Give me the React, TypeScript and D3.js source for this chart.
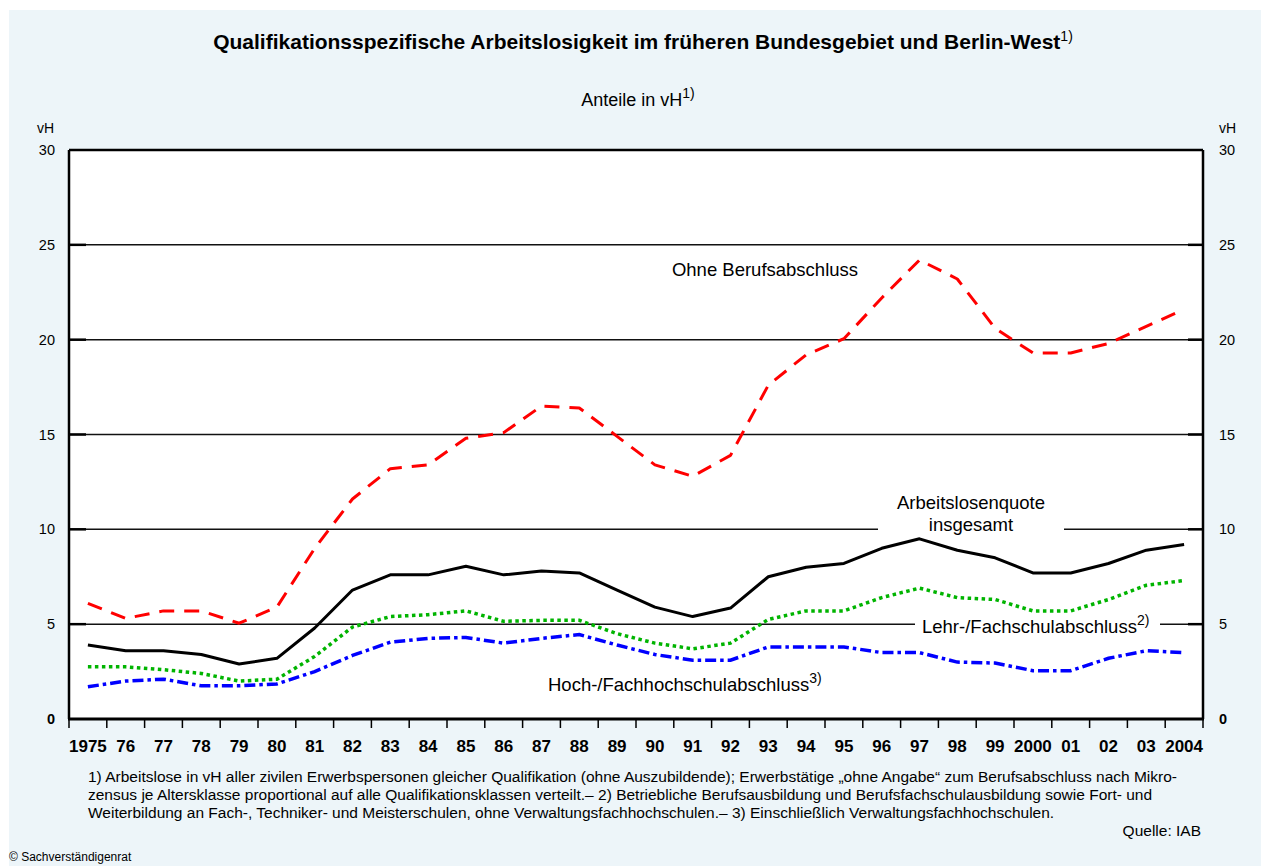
import React from "react";
import * as d3 from "d3";

const years = ["1975","76","77","78","79","80","81","82","83","84","85","86","87","88","89","90","91","92","93","94","95","96","97","98","99","2000","01","02","03","2004"];
const insgesamt = [3.9,3.6,3.6,3.4,2.9,3.2,4.8,6.8,7.6,7.6,8.05,7.6,7.8,7.7,6.8,5.9,5.4,5.85,7.5,8.0,8.2,9.0,9.5,8.9,8.5,7.7,7.7,8.2,8.9,9.2];
const ohneBerufsabschluss = [6.1,5.3,5.7,5.7,5.05,5.9,9.0,11.6,13.2,13.4,14.8,15.1,16.5,16.4,14.9,13.4,12.8,13.9,17.6,19.2,20.05,22.2,24.2,23.2,20.6,19.3,19.3,19.8,20.7,21.6];
const lehrFachschul = [2.75,2.75,2.6,2.4,2.0,2.1,3.3,4.85,5.4,5.5,5.7,5.15,5.2,5.2,4.5,4.0,3.7,4.0,5.25,5.7,5.7,6.4,6.9,6.4,6.3,5.7,5.7,6.3,7.05,7.3];
const hochFachhochschul = [1.7,2.0,2.1,1.75,1.75,1.85,2.5,3.35,4.05,4.25,4.3,4.0,4.25,4.45,3.9,3.4,3.1,3.1,3.8,3.8,3.8,3.5,3.5,3.0,2.95,2.55,2.55,3.2,3.6,3.5];
const yTicks = [0,5,10,15,20,25,30];

const FONT = "'Liberation Sans', Arial, Helvetica, sans-serif";

export default function App() {
  const W = 1261, H = 866;
  const left = 69, right = 1203, top = 150, bottom = 719;
  const x = d3.scaleBand<string>().domain(years).range([left, right]);
  const y = d3.scaleLinear().domain([0, 30]).range([bottom, top]);
  const cx = (i: number) => (x(years[i]) as number) + x.bandwidth() / 2;
  const line = d3.line<number>().x((_, i) => cx(i)).y((d) => y(d)).curve(d3.curveLinear);

  const boundaries = years.map((yr) => x(yr) as number).concat([right]);

  return (
    <svg width={W} height={H} style={{ position: "absolute", left: 0, top: 0 }} fontFamily={FONT}>
      <rect x={9} y={10} width={W - 9} height={H - 10} fill="#EDF5F9" />
      {/* Title */}
      <text x={643} y={49} textAnchor="middle" fontSize={21} fontWeight="bold" fill="#000">
        Qualifikationsspezifische Arbeitslosigkeit im früheren Bundesgebiet und Berlin-West
        <tspan fontSize={14} fontWeight="normal" dy={-8}>1)</tspan>
      </text>
      <text x={638} y={106} textAnchor="middle" fontSize={18} fill="#000">
        Anteile in vH<tspan fontSize={14} dy={-8}>1)</tspan>
      </text>
      {/* unit labels */}
      <text x={54} y={133} textAnchor="end" fontSize={14}>vH</text>
      <text x={1219} y={133} textAnchor="start" fontSize={14}>vH</text>

      {/* plot area */}
      <rect x={left} y={top} width={right - left} height={bottom - top} fill="#fff" />

      {/* gridlines */}
      {yTicks.filter((t) => t > 0 && t < 30).map((t) => (
        <g key={t}>
          <line x1={left} x2={right} y1={y(t)} y2={y(t)} stroke="#111" strokeWidth={1.5} />
          <line x1={left} x2={left + 17} y1={y(t)} y2={y(t)} stroke="#000" strokeWidth={2.5} />
          <line x1={right - 15} x2={right} y1={y(t)} y2={y(t)} stroke="#000" strokeWidth={2.5} />
        </g>
      ))}

      {/* y tick labels */}
      {yTicks.map((t) => (
        <g key={"yl" + t}>
          <text x={55} y={y(t) + 5} textAnchor="end" fontSize={14.5} fontWeight={t === 0 ? "bold" : "normal"}>{t}</text>
          <text x={1219} y={y(t) + 5} textAnchor="start" fontSize={14.5} fontWeight={t === 0 ? "bold" : "normal"}>{t}</text>
        </g>
      ))}

      {/* label backgrounds (gaps in gridlines) */}
      <rect x={878} y={488} width={186} height={48} fill="#fff" />
      <rect x={915} y={612} width={245} height={26} fill="#fff" />

      {/* series */}
      <path d={line(ohneBerufsabschluss) || ""} fill="none" stroke="#FF0000" strokeWidth={3} strokeDasharray="15 10" strokeLinejoin="round" />
      <path d={line(lehrFachschul) || ""} fill="none" stroke="#00B400" strokeWidth={3.5} strokeDasharray="3.5 3.5" />
      <path d={line(hochFachhochschul) || ""} fill="none" stroke="#0000FF" strokeWidth={3.5} strokeDasharray="11 4 3.5 4" />
      <path d={line(insgesamt) || ""} fill="none" stroke="#000" strokeWidth={3} strokeLinejoin="round" />

      {/* series labels */}
      <text x={765} y={276} textAnchor="middle" fontSize={18.5}>Ohne Berufsabschluss</text>
      <text x={971} y={509} textAnchor="middle" fontSize={18.5}>Arbeitslosenquote</text>
      <text x={971} y={531} textAnchor="middle" fontSize={18.5}>insgesamt</text>
      <text x={922} y={633} textAnchor="start" fontSize={18.5}>
        Lehr-/Fachschulabschluss<tspan fontSize={14} dy={-8}>2)</tspan>
      </text>
      <text x={548} y={691} textAnchor="start" fontSize={18.5}>
        Hoch-/Fachhochschulabschluss<tspan fontSize={14} dy={-8}>3)</tspan>
      </text>

      {/* frame */}
      <line x1={left} x2={left} y1={top} y2={bottom} stroke="#000" strokeWidth={2.5} />
      <line x1={right} x2={right} y1={top} y2={bottom} stroke="#000" strokeWidth={2.5} />
      <line x1={left} x2={right} y1={top} y2={top} stroke="#000" strokeWidth={2.5} />
      <line x1={left - 1} x2={right + 1} y1={bottom} y2={bottom} stroke="#000" strokeWidth={3} />

      {/* x ticks */}
      {boundaries.map((b, i) => (
        <line key={"xt" + i} x1={b} x2={b} y1={bottom} y2={bottom + 9} stroke="#000" strokeWidth={1.5} />
      ))}
      {years.map((yr, i) => (
        <text key={"xl" + yr} x={cx(i)} y={752} textAnchor="middle" fontSize={17} fontWeight="bold">{yr}</text>
      ))}

      {/* footnotes */}
      <g fontSize={15.5}>
        <text x={88} y={782}>1) Arbeitslose in vH aller zivilen Erwerbspersonen gleicher Qualifikation (ohne Auszubildende); Erwerbstätige „ohne Angabe“ zum Berufsabschluss nach Mikro-</text>
        <text x={88} y={800}>zensus je Altersklasse proportional auf alle Qualifikationsklassen verteilt.– 2) Betriebliche Berufsausbildung und Berufsfachschulausbildung sowie Fort- und</text>
        <text x={88} y={818}>Weiterbildung an Fach-, Techniker- und Meisterschulen, ohne Verwaltungsfachhochschulen.– 3) Einschließlich Verwaltungsfachhochschulen.</text>
        <text x={1201} y={836} textAnchor="end">Quelle: IAB</text>
      </g>
      <text x={9} y={861} fontSize={12}>© Sachverständigenrat</text>
    </svg>
  );
}
